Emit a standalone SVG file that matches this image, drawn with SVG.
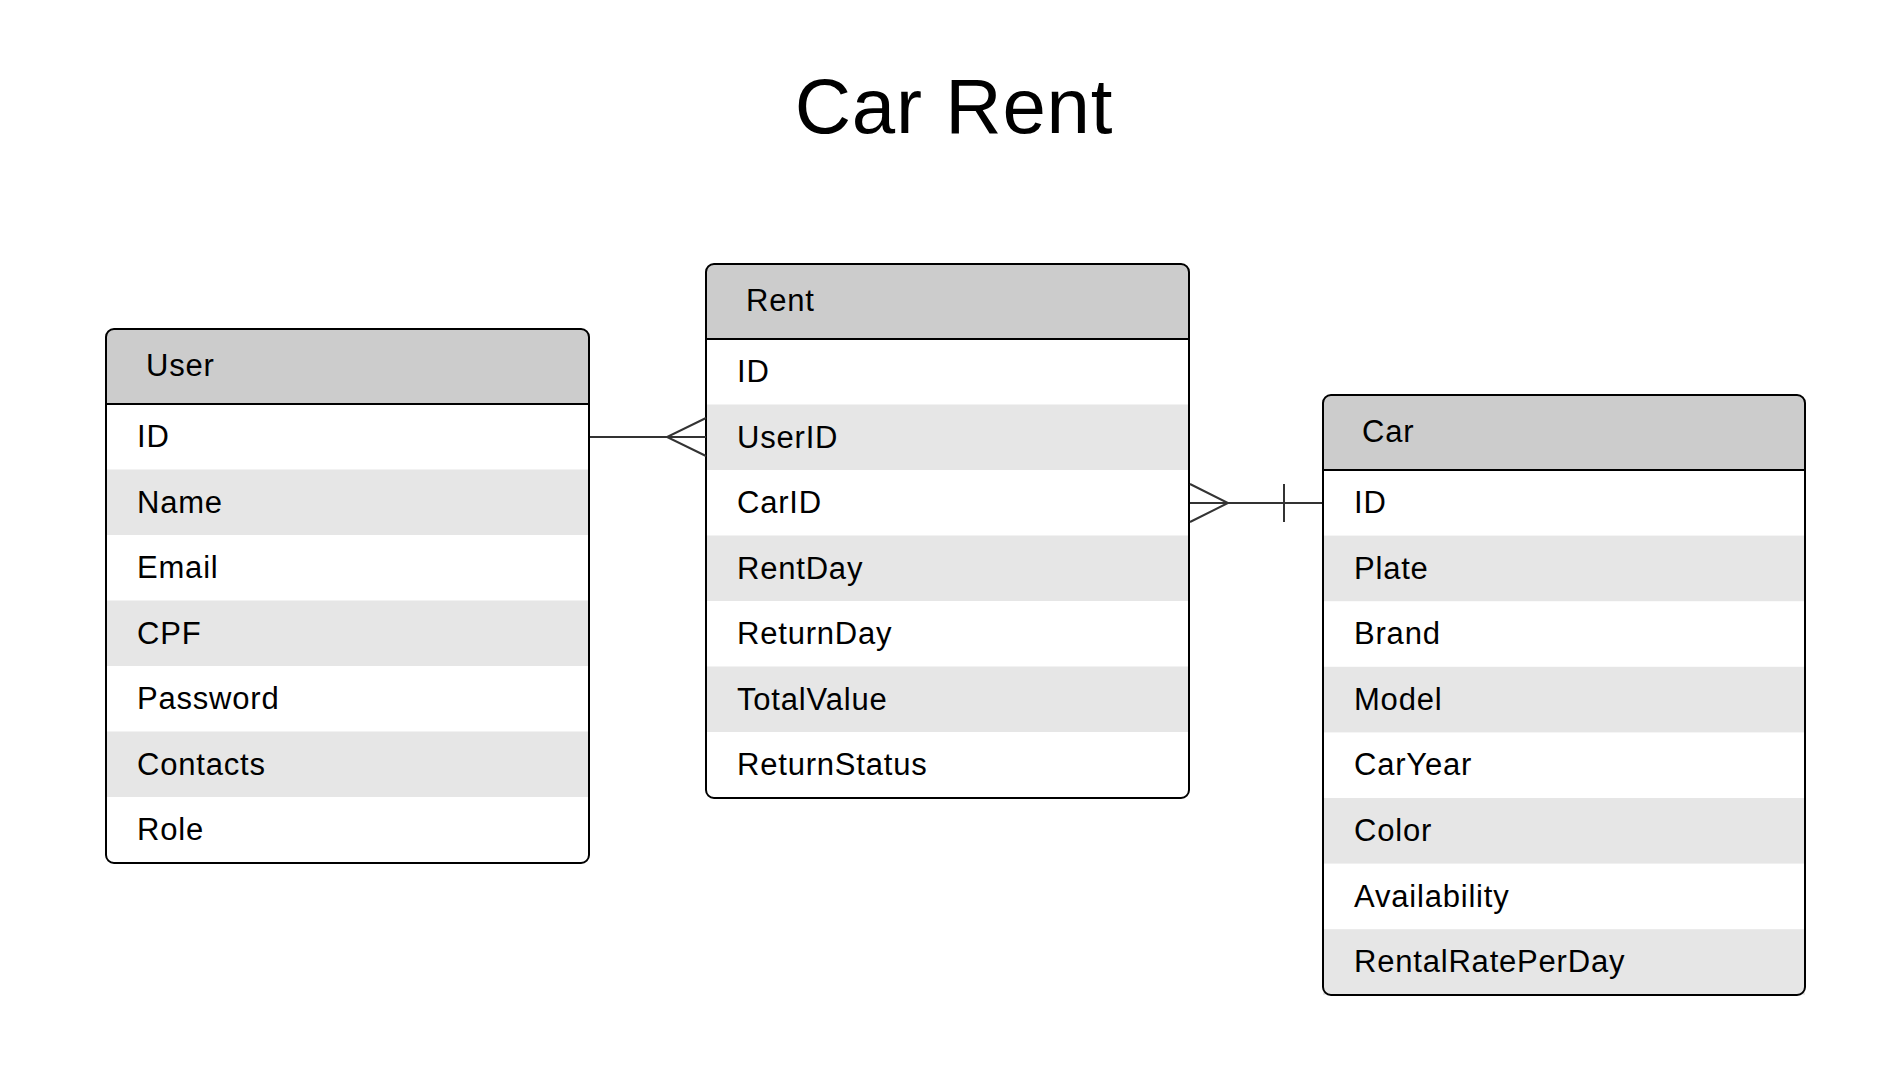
<svg xmlns="http://www.w3.org/2000/svg" width="1896" height="1078" viewBox="0 0 1896 1078">
<style>
.t{font-family:"Liberation Sans",Arial,sans-serif;font-size:31px;letter-spacing:0.8px;fill:#000}
.title{font-family:"Liberation Sans",Arial,sans-serif;font-size:78px;letter-spacing:0.8px;fill:#000}
.hdr{fill:#cccccc}
.alt{fill:#e6e6e6}
.box{fill:none;stroke:#000;stroke-width:2}
.sep{stroke:#000;stroke-width:2}
.c{fill:none;stroke:#333;stroke-width:2}
</style>
<rect width="1896" height="1078" fill="#fff"/>
<text class="title" x="954" y="133" text-anchor="middle">Car Rent</text>

<g id="user">
<path class="hdr" d="M106,404 V337 a8,8 0 0 1 8,-8 H581 a8,8 0 0 1 8,8 V404 Z"/>
<rect class="alt" x="106" y="469.5" width="483" height="65.5"/>
<rect class="alt" x="106" y="600.5" width="483" height="65.5"/>
<rect class="alt" x="106" y="731.5" width="483" height="65.5"/>
<line class="sep" x1="106" y1="404" x2="589" y2="404"/>
<rect class="box" x="106" y="329" width="483" height="534" rx="8"/>
<text class="t" x="146" y="376">User</text>
<text class="t" x="137" y="447">ID</text>
<text class="t" x="137" y="512.5">Name</text>
<text class="t" x="137" y="578">Email</text>
<text class="t" x="137" y="643.5">CPF</text>
<text class="t" x="137" y="709">Password</text>
<text class="t" x="137" y="774.5">Contacts</text>
<text class="t" x="137" y="840">Role</text>
</g>

<g id="rent">
<path class="hdr" d="M706,339 V272 a8,8 0 0 1 8,-8 H1181 a8,8 0 0 1 8,8 V339 Z"/>
<rect class="alt" x="706" y="404.5" width="483" height="65.5"/>
<rect class="alt" x="706" y="535.5" width="483" height="65.5"/>
<rect class="alt" x="706" y="666.5" width="483" height="65.5"/>
<line class="sep" x1="706" y1="339" x2="1189" y2="339"/>
<rect class="box" x="706" y="264" width="483" height="534" rx="8"/>
<text class="t" x="746" y="311">Rent</text>
<text class="t" x="737" y="382">ID</text>
<text class="t" x="737" y="447.5">UserID</text>
<text class="t" x="737" y="513">CarID</text>
<text class="t" x="737" y="578.5">RentDay</text>
<text class="t" x="737" y="644">ReturnDay</text>
<text class="t" x="737" y="709.5">TotalValue</text>
<text class="t" x="737" y="775">ReturnStatus</text>
</g>

<g id="car">
<path class="hdr" d="M1323,470 V403 a8,8 0 0 1 8,-8 H1797 a8,8 0 0 1 8,8 V470 Z"/>
<rect class="alt" x="1323" y="535.6" width="482" height="65.6"/>
<rect class="alt" x="1323" y="666.8" width="482" height="65.6"/>
<rect class="alt" x="1323" y="798" width="482" height="65.6"/>
<rect class="alt" x="1323" y="929.2" width="482" height="65.6"/>
<line class="sep" x1="1323" y1="470" x2="1805" y2="470"/>
<rect class="box" x="1323" y="395" width="482" height="600" rx="8"/>
<text class="t" x="1362" y="442">Car</text>
<text class="t" x="1354" y="513">ID</text>
<text class="t" x="1354" y="578.6">Plate</text>
<text class="t" x="1354" y="644.2">Brand</text>
<text class="t" x="1354" y="709.8">Model</text>
<text class="t" x="1354" y="775.4">CarYear</text>
<text class="t" x="1354" y="841">Color</text>
<text class="t" x="1354" y="906.6">Availability</text>
<text class="t" x="1354" y="972.2">RentalRatePerDay</text>
</g>

<g id="connectors">
<path class="c" d="M590,437 H706"/>
<path class="c" d="M706,418 L667,437 L706,456"/>
<path class="c" d="M1190,503 H1322"/>
<path class="c" d="M1190,484 L1228,503 L1190,522"/>
<path class="c" d="M1284,484 V522"/>
</g>
</svg>
